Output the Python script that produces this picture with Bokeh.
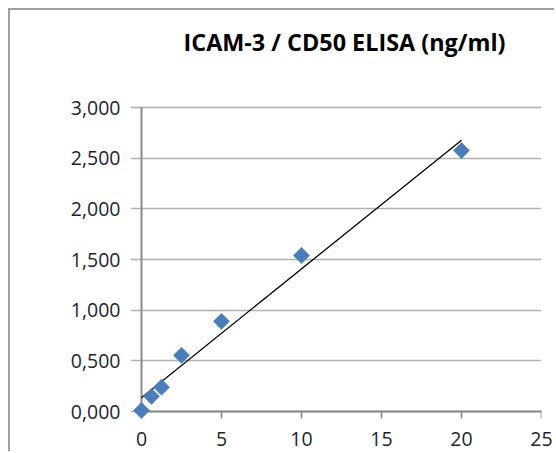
import numpy as np
from bokeh.plotting import figure
from bokeh.models import Range1d, FixedTicker, ColumnDataSource, Title
from bokeh.embed import file_html
from bokeh.resources import INLINE

# Data
conc = [0, 0.625, 1.25, 2.5, 5, 10, 20]
od = [0.01, 0.15, 0.24, 0.555, 0.89, 1.54, 2.575]

x_ticks = [0, 5, 10, 15, 20, 25]
y_ticks = [0, 0.5, 1.0, 1.5, 2.0, 2.5, 3.0]
y_tick_labels = ["0,000", "0,500", "1,000", "1,500", "2,000", "2,500", "3,000"]
title_text = "ICAM-3 / CD50 ELISA (ng/ml)"

# Linear trendline (least squares) over the data range
slope, intercept = np.polyfit(conc, od, 1)
fit_x = [min(conc), max(conc)]
fit_y = [intercept + slope * v for v in fit_x]

FONT = "Open Sans"
GRID = "#b0b0b0"
AXIS = "#8a8a8a"
TXT = "#1f1f2e"

# geometry (pixels)
W, H = 546, 443
LEFT, RIGHT, TOP, BOTTOM = 120, 15, 95, 32
PAD_L, PAD_B, PAD_T = 11, 10, 2      # frame padding beyond the axes
TICK_Y, TICK_X = 8, 7                # tick lengths
xmin, xmax = x_ticks[0], x_ticks[-1]
ymin, ymax = y_ticks[0], y_ticks[-1]
fw = W - LEFT - RIGHT
fh = H - TOP - BOTTOM
ux = (fw - PAD_L) / (xmax - xmin)
uy = (fh - PAD_B - PAD_T) / (ymax - ymin)

p = figure(width=W, height=H, output_backend="svg", toolbar_location=None,
           x_range=Range1d(xmin - PAD_L / ux, xmax),
           y_range=Range1d(ymin - PAD_B / uy, ymax + PAD_T / uy),
           min_border_left=LEFT, min_border_right=RIGHT,
           min_border_top=TOP, min_border_bottom=BOTTOM)

p.outline_line_color = None
p.border_fill_color = "white"
p.background_fill_color = "white"

# title, pushed up by an empty spacer panel between it and the frame
p.title.text = title_text
p.title.text_font = FONT
p.title.text_font_size = "23.4px"
p.title.text_font_style = "bold"
p.title.text_color = "#000000"
p.title.align = "left"
p.title.offset = 53
p.title.standoff = 10
p.add_layout(Title(text=" ", text_font_size="1px", standoff=40), "above")

# grid (extends left of the axis to act as tick marks)
p.xgrid.grid_line_color = None
p.ygrid.ticker = FixedTicker(ticks=y_ticks)
p.ygrid.grid_line_color = GRID
p.ygrid.grid_line_width = 1.6
p.ygrid.bounds = (xmin - TICK_Y / ux, xmax)

# axes: labels only, lines/ticks drawn at zero below
p.yaxis.ticker = FixedTicker(ticks=y_ticks)
p.yaxis.major_label_overrides = {t: l for t, l in zip(y_ticks, y_tick_labels)}
p.xaxis.ticker = FixedTicker(ticks=x_ticks)
for ax in (p.xaxis, p.yaxis):
    ax.axis_line_color = None
    ax.major_tick_line_color = None
    ax.minor_tick_line_color = None
    ax.major_tick_in = 0
    ax.major_tick_out = 0
    ax.major_label_text_font = FONT
    ax.major_label_text_font_size = "19.5px"
    ax.major_label_text_color = TXT
p.yaxis.major_label_standoff = 10
p.xaxis.major_label_standoff = 10

# x tick marks and axis lines
p.segment(x0=x_ticks, y0=[ymin] * len(x_ticks), x1=x_ticks,
          y1=[ymin - TICK_X / uy] * len(x_ticks), line_color=AXIS, line_width=1.6)
p.segment(x0=[xmin, xmin], y0=[ymin, ymin], x1=[xmax, xmin], y1=[ymin, ymax],
          line_color=AXIS, line_width=2)

# trendline
p.line(fit_x, fit_y, line_color="black", line_width=1.3)

# points
src = ColumnDataSource(dict(x=conc, y=od))
p.scatter("x", "y", source=src, marker="square", angle=np.pi / 4, size=11.5,
          fill_color="#4a7ebb", line_color="#4a7ebb", line_width=0.5)

p.styles = {"margin-left": "8px", "margin-top": "8px",
            "border-left": "2px solid #a0a0a0", "border-top": "2px solid #a0a0a0"}

open("out.html", "w").write(file_html(p, INLINE))
